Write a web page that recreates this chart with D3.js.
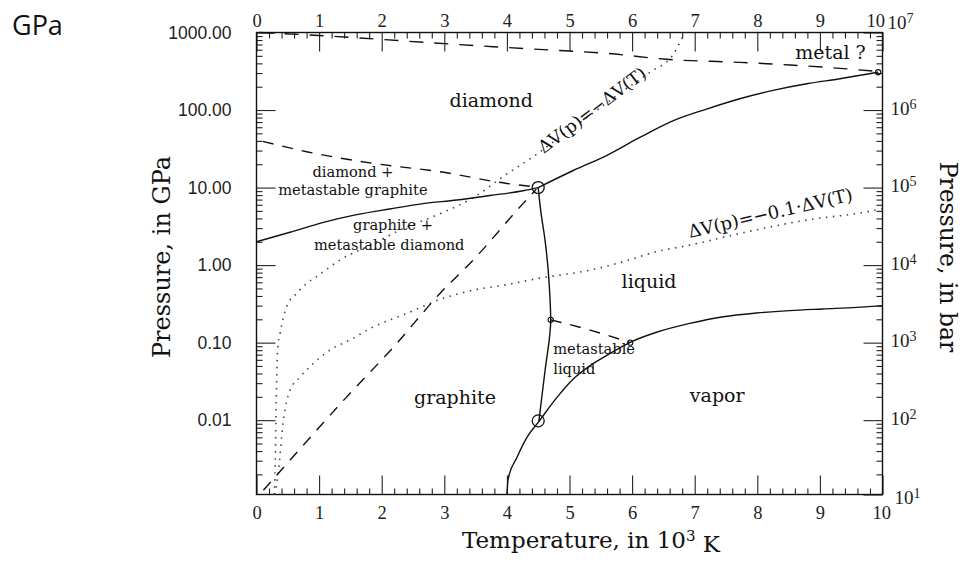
<!DOCTYPE html>
<html><head><meta charset="utf-8">
<script src="https://cdn.jsdelivr.net/npm/d3@7"></script>
<style>
body{margin:0;background:#fff;}
svg{display:block;}
</style></head><body>
<svg id="chart" width="962" height="562"></svg>
<script>
// ---------- axis ticks ----------
const xTicks = [0,1,2,3,4,5,6,7,8,9,10];
const yTicksGPa = [0.01,0.1,1,10,100,1000];
const yTickLabelsGPa = ["0.01","0.10","1.00","10.00","100.00","1000.00"];
const yTicksBar = [1e1,1e2,1e3,1e4,1e5,1e6,1e7];
const yTickExpBar = ["1","2","3","4","5","6","7"];

// ---------- phase boundaries: temperature (10^3 K), pressure (GPa) ----------
// solid: graphite / diamond
const graphiteDiamondT = [0, 0.535, 1.07, 1.60, 2.13, 2.66, 3.20, 3.73, 4.26, 4.5];
const graphiteDiamondP = [2.0, 2.65, 3.56, 4.48, 5.3, 6.2, 6.9, 7.9, 9.1, 10];
// solid: diamond / liquid
const diamondLiquidT = [4.5, 5.06, 5.59, 6.13, 6.66, 7.19, 7.72, 8.25, 8.79, 9.32, 9.93];
const diamondLiquidP = [10, 16.6, 25.9, 44.6, 73, 103, 140, 179, 218, 253, 307];
// solid: graphite / liquid (melting line)
const meltingT = [4.5, 4.54, 4.61, 4.66, 4.69, 4.70, 4.61, 4.51];
const meltingP = [10, 5.05, 2.07, 0.85, 0.35, 0.197, 0.044, 0.0096];
// solid: vapor boundary
const vaporT = [4.0, 4.02, 4.16, 4.32, 4.51, 4.80, 5.06, 5.33, 5.59, 5.97, 6.39, 6.92, 7.46, 7.99, 8.52, 9.05, 9.59, 10.0];
const vaporP = [0.0011, 0.00174, 0.0033, 0.006, 0.0096, 0.0197, 0.034, 0.0505, 0.068, 0.101, 0.136, 0.177, 0.216, 0.241, 0.259, 0.272, 0.285, 0.30];
// dashed: metal boundary
const metalT = [0.05, 0.85, 1.97, 2.77, 3.78, 4.69, 5.59, 6.55, 7.72, 8.52, 9.32, 9.85];
const metalP = [1000, 929, 817, 738, 656, 594, 539, 451, 412, 381, 345, 318];
// dashed: upper metastable limit
const metaUpperT = [0.1, 0.80, 1.87, 2.93, 4.0, 4.42];
const metaUpperP = [39.5, 29, 20.5, 16, 11.3, 10.3];
// dashed: lower metastable limit
const metaLowerT = [0.11, 0.64, 1.39, 2.19, 2.93, 3.46, 4.26, 4.47];
const metaLowerP = [0.00125, 0.0038, 0.018, 0.088, 0.43, 1.16, 6.25, 9.5];
// dashed: metastable liquid
const metaLiquidT = [4.7, 5.33, 5.97];
const metaLiquidP = [0.197, 0.145, 0.1];
// dotted: dV(p) = -dV(T)
const dv1T = [0.28, 0.30, 0.31, 0.34, 0.375, 0.48, 0.64, 0.80, 0.96, 1.33, 1.76, 2.40, 2.93, 3.46, 4.0, 4.42, 4.85, 5.33, 5.81, 6.29, 6.65, 6.84];
const dv1P = [0.0011, 0.003, 0.01, 0.087, 0.13, 0.29, 0.43, 0.58, 0.71, 1.16, 1.72, 3.1, 4.6, 7.4, 15, 25, 45, 86, 166, 309, 512, 1000];
// dotted: dV(p) = -0.1 dV(T)
const dv2T = [0.29, 0.34, 0.43, 0.535, 0.695, 0.91, 1.17, 1.49, 1.87, 2.40, 2.93, 3.46, 4.0, 4.53, 5.33, 5.85, 6.39, 6.92, 7.72, 8.79, 9.75, 10.0];
const dv2P = [0.0011, 0.00185, 0.01, 0.0244, 0.036, 0.054, 0.08, 0.108, 0.16, 0.238, 0.36, 0.475, 0.56, 0.68, 0.861, 1.10, 1.49, 1.81, 2.56, 3.81, 4.87, 5.36];

// special points
const bigPointT = [4.5, 4.5];
const bigPointP = [10, 0.0098];
const smallPointT = [4.7, 5.97, 9.93];
const smallPointP = [0.197, 0.1, 307];

// region labels
const regionText = ["diamond", "liquid", "vapor", "graphite", "metal ?"];
const regionT = [3.75, 6.27, 7.36, 3.17, 9.17];
const regionP = [111, 0.5, 0.0172, 0.0161, 455];
const smallText = ["diamond +", "metastable graphite", "graphite +", "metastable diamond"];
const smallT = [1.54, 1.54, 2.18, 2.12];
const smallP = [13.6, 8.0, 2.83, 1.56];
const metaLiqText = ["metastable", "liquid"];
const metaLiqT = [4.74, 4.74];
const metaLiqP = [0.0705, 0.0392];

// ---------- scales ----------
const svg = d3.select("#chart");
const x = d3.scaleLinear().domain([0, 10]).range([256.5, 882.5]);
const y = d3.scaleLog().domain([0.0011, 1000]).range([494.5, 32.5]);
const yBar = d3.scaleLog().domain([11, 1e7]).range([494.5, 32.5]).clamp(true);

const zip = (a, b) => a.map((v, i) => [v, b[i]]);
const SERIF = "'DejaVu Serif', serif";
const TIMES = "'Liberation Serif', serif";

// minor ticks
const xMinor = d3.range(0, 10.001, 0.2).filter(v => Math.abs(v - Math.round(v)) > 1e-6);
const mult = [2,3,4,5,6,7,8,9];
const yMinor = [];
[-3,-2,-1,0,1,2].forEach(e => mult.forEach(m => { const v = m * Math.pow(10, e); if (v > 0.0011 && v < 1000) yMinor.push(v); }));
const yBarMinor = [];
[1,2,3,4,5,6].forEach(e => mult.forEach(m => { const v = m * Math.pow(10, e); if (v > 11 && v < 1e7) yBarMinor.push(v); }));

function styleAxis(g, family, size) {
  g.select(".domain").remove();
  g.attr("font-family", family).attr("font-size", size);
  g.selectAll("line").attr("stroke", "#222").attr("stroke-width", 1.1);
  g.selectAll("text").attr("fill", "#222");
}

// bottom
const bottomAxis = svg.append("g").attr("transform", "translate(0,494.5)")
  .call(d3.axisBottom(x).tickValues(xTicks).tickSize(-19).tickSizeOuter(0).tickPadding(11).tickFormat(d3.format("d")))
  .call(g => styleAxis(g, TIMES, 18.5));
bottomAxis.selectAll(".tick text").filter(d => d === 10).attr("text-anchor", "end").attr("x", 8);
svg.append("g").attr("transform", "translate(0,494.5)")
  .call(d3.axisBottom(x).tickValues(xMinor).tickSize(-6).tickSizeOuter(0).tickFormat(""))
  .call(g => styleAxis(g, TIMES, 17));
// top
const topAxis = svg.append("g").attr("transform", "translate(0,32.5)")
  .call(d3.axisTop(x).tickValues(xTicks).tickSize(-19).tickSizeOuter(0).tickPadding(6).tickFormat(d3.format("d")))
  .call(g => styleAxis(g, TIMES, 18.5));
topAxis.selectAll(".tick text").filter(d => d === 10).attr("text-anchor", "end").attr("x", 2);
svg.append("g").attr("transform", "translate(0,32.5)")
  .call(d3.axisTop(x).tickValues(xMinor).tickSize(-6).tickSizeOuter(0).tickFormat(""))
  .call(g => styleAxis(g, TIMES, 17));
// left
svg.append("g").attr("transform", "translate(256.5,0)")
  .call(d3.axisLeft(y).tickValues(yTicksGPa).tickSize(-19).tickSizeOuter(0).tickPadding(25)
    .tickFormat((d, i) => yTickLabelsGPa[i]))
  .call(g => styleAxis(g, "'Liberation Sans', sans-serif", 17.5));
svg.append("g").attr("transform", "translate(256.5,0)")
  .call(d3.axisLeft(y).tickValues(yMinor).tickSize(-6).tickSizeOuter(0).tickFormat(""))
  .call(g => styleAxis(g, TIMES, 17));
// right
const rightAxis = svg.append("g").attr("transform", "translate(882.5,0)")
  .call(d3.axisRight(yBar).tickValues(yTicksBar).tickSize(-19).tickSizeOuter(0).tickPadding(8).tickFormat(""))
  .call(g => styleAxis(g, TIMES, 19));
rightAxis.selectAll(".tick text").each(function(d, i) {
  const t = d3.select(this);
  t.text(null);
  if (i === yTicksBar.length - 1) t.attr("y", -10).attr("x", 5);
  else if (i === 0) t.attr("y", 3).attr("x", 12);
  else t.attr("y", -2);
  t.append("tspan").text("10");
  t.append("tspan").attr("dy", "-0.42em").attr("font-size", 14).text(yTickExpBar[i]);
});
svg.append("g").attr("transform", "translate(882.5,0)")
  .call(d3.axisRight(yBar).tickValues(yBarMinor).tickSize(-6).tickSizeOuter(0).tickFormat(""))
  .call(g => styleAxis(g, TIMES, 17));

// frame
svg.append("rect").attr("x", x(0)).attr("y", y(1000)).attr("width", x(10) - x(0)).attr("height", y(0.0011) - y(1000))
  .attr("fill", "none").attr("stroke", "#111").attr("stroke-width", 1.4);

// ---------- curves ----------
const lineX = d3.line().x(d => x(d[0])).y(d => y(d[1])).curve(d3.curveMonotoneX);
const lineY = d3.line().x(d => x(d[0])).y(d => y(d[1])).curve(d3.curveMonotoneY);
const plot = svg.append("g");
function draw(gen, T, P, style) {
  const p = plot.append("path").attr("d", gen(zip(T, P))).attr("fill", "none")
    .attr("stroke", style.color || "#111").attr("stroke-width", style.width || 1.4);
  if (style.dash) p.attr("stroke-dasharray", style.dash);
  return p;
}
const SOLID = {width: 1.4};
const DASH = {width: 1.4, dash: "11,9"};
const DOT = {width: 1.6, dash: "1.5,5.5", color: "#444"};

draw(lineX, dv1T, dv1P, DOT);
draw(lineX, dv2T, dv2P, DOT);
draw(lineX, metalT, metalP, {width: 1.4, dash: "14,11"});
draw(lineX, metaUpperT, metaUpperP, DASH);
draw(lineX, metaLowerT, metaLowerP, DASH);
draw(lineX, metaLiquidT, metaLiquidP, DASH);
draw(lineX, graphiteDiamondT, graphiteDiamondP, SOLID);
draw(lineX, diamondLiquidT, diamondLiquidP, SOLID);
draw(lineY, meltingT, meltingP, SOLID);
draw(lineX, vaporT, vaporP, SOLID);

// points
plot.selectAll("circle.big").data(zip(bigPointT, bigPointP)).join("circle").attr("class", "big")
  .attr("cx", d => x(d[0])).attr("cy", d => y(d[1])).attr("r", 6)
  .attr("fill", "none").attr("stroke", "#111").attr("stroke-width", 1.3);
plot.selectAll("circle.small").data(zip(smallPointT, smallPointP)).join("circle").attr("class", "small")
  .attr("cx", d => x(d[0])).attr("cy", d => y(d[1])).attr("r", 2.6)
  .attr("fill", "none").attr("stroke", "#111").attr("stroke-width", 1.1);

// ---------- labels ----------
const lab = svg.append("g").attr("font-family", SERIF).attr("fill", "#111");
regionText.forEach((s, i) => lab.append("text").attr("x", x(regionT[i])).attr("y", y(regionP[i]))
  .attr("text-anchor", "middle").attr("font-size", 19).text(s));
smallText.forEach((s, i) => lab.append("text").attr("x", x(smallT[i])).attr("y", y(smallP[i]))
  .attr("text-anchor", "middle").attr("font-size", 14.6).text(s));
metaLiqText.forEach((s, i) => lab.append("text").attr("x", x(metaLiqT[i])).attr("y", y(metaLiqP[i]))
  .attr("text-anchor", "start").attr("font-size", 14.6).text(s));

lab.append("text").attr("transform", `translate(${x(4.59)},${y(27)}) rotate(-37)`)
  .attr("font-size", 17.5).text("ΔV(p)=−ΔV(T)");
lab.append("text").attr("transform", `translate(${x(6.92)},${y(2.23)}) rotate(-13)`)
  .attr("font-size", 18).text("ΔV(p)=−0.1·ΔV(T)");

// axis titles
lab.append("text").attr("transform", "translate(170,257) rotate(-90)").attr("text-anchor", "middle")
  .attr("font-size", 24).text("Pressure, in GPa");
lab.append("text").attr("transform", "translate(940,257) rotate(90)").attr("text-anchor", "middle")
  .attr("font-size", 23.5).text("Pressure, in bar");
const xt = lab.append("text").attr("x", 591).attr("y", 548).attr("text-anchor", "middle").attr("font-size", 23);
xt.append("tspan").text("Temperature, in 10");
xt.append("tspan").attr("dy", "-0.5em").attr("font-size", 15).text("3");
xt.append("tspan").attr("dy", "0.5em").text(" K");

// corner note
svg.append("text").attr("x", 12).attr("y", 35).attr("font-family", "'Open Sans', sans-serif")
  .attr("font-size", 27).attr("fill", "#111").text("GPa");
</script>
</body></html>
